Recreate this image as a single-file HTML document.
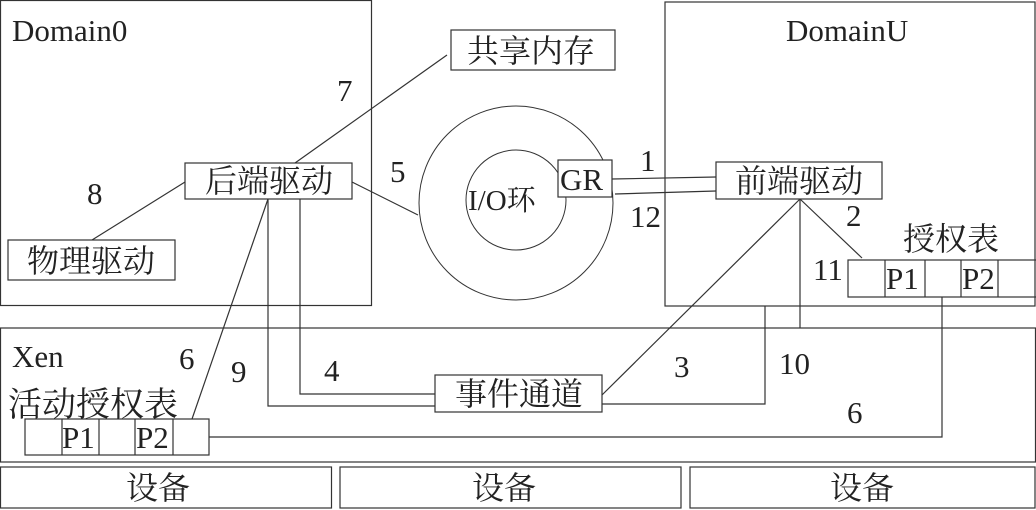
<!DOCTYPE html>
<html><head><meta charset="utf-8"><style>
html,body{margin:0;padding:0;background:#fff;}
svg{display:block;}
text{font-family:"Liberation Serif","Noto Serif CJK SC",serif;font-size:31px;fill:#222;}
.c{font-size:32px;}
</style></head><body>
<svg width="1036" height="510" viewBox="0 0 1036 510" xmlns="http://www.w3.org/2000/svg">
<g fill="none" stroke="#333" stroke-width="1.2">
<rect x="0.5" y="0.5" width="371" height="305"/>
<rect x="665" y="2" width="370" height="304"/>
<rect x="0.5" y="328" width="1035" height="134"/>
<rect x="0.5" y="467" width="331" height="41"/>
<rect x="340" y="467" width="341" height="41"/>
<rect x="690" y="467" width="345" height="41"/>
<rect x="451" y="30" width="164" height="40"/>
<rect x="185" y="163" width="167" height="36"/>
<rect x="8" y="240" width="167" height="40"/>
<circle cx="516" cy="203" r="97" stroke-width="1"/>
<circle cx="516" cy="200" r="50" stroke-width="1"/>
<rect x="716" y="162" width="166" height="37"/>
<rect x="435" y="375" width="167" height="37"/>
<line x1="612" y1="179" x2="716" y2="177"/>
<line x1="615" y1="194" x2="716" y2="191"/>
<line x1="185" y1="182" x2="92" y2="240"/>
<line x1="295" y1="163" x2="447" y2="55"/>
<line x1="352" y1="182" x2="418" y2="215"/>
<line x1="268" y1="199" x2="192" y2="419"/>
<polyline points="268,199 268,406 435,406"/>
<polyline points="300,199 300,394 435,394"/>
<line x1="800" y1="199" x2="862" y2="258"/>
<line x1="800" y1="199" x2="602" y2="395"/>
<line x1="800" y1="199" x2="800" y2="328"/>
<polyline points="602,404 765,404 765,306"/>
<polyline points="942,297 942,437 209,437"/>
<rect x="25" y="419" width="184" height="36"/>
<line x1="62" y1="419" x2="62" y2="455"/><line x1="99" y1="419" x2="99" y2="455"/>
<line x1="135" y1="419" x2="135" y2="455"/><line x1="173" y1="419" x2="173" y2="455"/>
<rect x="848" y="260" width="190" height="37"/>
<line x1="885" y1="260" x2="885" y2="297"/><line x1="925" y1="260" x2="925" y2="297"/>
<line x1="961" y1="260" x2="961" y2="297"/><line x1="998" y1="260" x2="998" y2="297"/>
</g>
<rect x="558" y="160" width="54" height="37" fill="#fff" stroke="#333" stroke-width="1.2"/>
<text x="12" y="41">Domain0</text>
<text x="786" y="41">DomainU</text>
<text class="c" x="467" y="62">共享内存</text>
<text class="c" x="205" y="192">后端驱动</text>
<text class="c" x="27" y="272">物理驱动</text>
<text class="c" x="735" y="192">前端驱动</text>
<text class="c" x="455" y="405">事件通道</text>
<text x="468" y="210" style="font-size:29px">I/O环</text>
<text x="560" y="190">GR</text>
<text class="c" x="903" y="250">授权表</text>
<text class="c" x="8" y="416" style="font-size:34px">活动授权表</text>
<text x="12" y="367">Xen</text>
<text x="62" y="448">P1</text><text x="136" y="448">P2</text>
<text x="886" y="289">P1</text><text x="962" y="289">P2</text>
<text x="337" y="101">7</text>
<text x="87" y="204">8</text>
<text x="390" y="182">5</text>
<text x="640" y="171">1</text>
<text x="630" y="227">12</text>
<text x="846" y="226">2</text>
<text x="813" y="280">11</text>
<text x="179" y="369">6</text>
<text x="231" y="382">9</text>
<text x="324" y="381">4</text>
<text x="674" y="377">3</text>
<text x="779" y="374">10</text>
<text x="847" y="423">6</text>
<text class="c" x="126" y="499">设备</text>
<text class="c" x="472" y="499">设备</text>
<text class="c" x="830" y="499">设备</text>
</svg>
</body></html>
